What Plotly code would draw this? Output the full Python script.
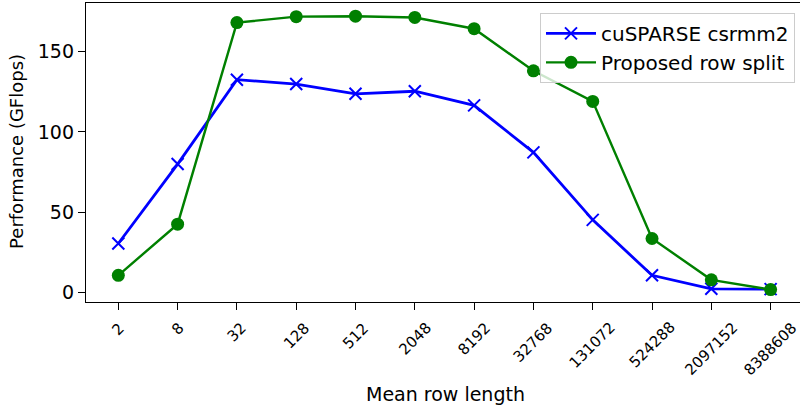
import plotly.graph_objects as go

# Data
row_lengths = ["2", "8", "32", "128", "512", "2048", "8192", "32768",
               "131072", "524288", "2097152", "8388608"]
cusparse = [30.6, 80, 132.5, 129.8, 123.7, 125.3, 116.5, 87.3, 45.3, 10.8, 2.4, 2.2]
row_split = [10.8, 42.6, 168, 171.7, 172, 171.2, 164.2, 138, 119, 33.7, 8.0, 1.9]
y_ticks = [0, 50, 100, 150]

FONT = "DejaVu Sans"
x_idx = list(range(len(row_lengths)))

fig = go.Figure()
fig.add_trace(go.Scatter(
    x=x_idx, y=cusparse, mode="lines+markers", name="cuSPARSE csrmm2",
    line=dict(color="#0000ff", width=2.8),
    marker=dict(symbol="x-thin-open", size=12, color="#0000ff",
                line=dict(color="#0000ff", width=2)),
))
fig.add_trace(go.Scatter(
    x=x_idx, y=row_split, mode="lines+markers", name="Proposed row split",
    line=dict(color="#008000", width=2.4),
    marker=dict(symbol="circle", size=13, color="#008000"),
))

W = 802
PLOT_W = W - 86

annotations = []
for i, lab in enumerate(row_lengths):
    annotations.append(dict(
        x=i, xref="x", y=-0.052, yref="paper", text=lab, showarrow=False,
        textangle=-45, xanchor="center", yanchor="top",
        font=dict(family=FONT, size=15, color="black"), borderpad=0,
    ))
annotations.append(dict(
    x=(445 - 86) / PLOT_W, xref="paper", y=-0.308, yref="paper",
    text="Mean row length",
    showarrow=False, xanchor="center", yanchor="middle",
    font=dict(family=FONT, size=19, color="black"),
))
annotations.append(dict(
    x=(17 - 86) / PLOT_W, xref="paper", y=0.502, yref="paper",
    text="Performance (GFlops)",
    showarrow=False, xanchor="center", yanchor="middle", textangle=-90,
    font=dict(family=FONT, size=18, color="black"),
))

fig.update_layout(
    width=W, height=407,
    margin=dict(l=86, r=0, t=3, b=105),
    paper_bgcolor="white", plot_bgcolor="white",
    font=dict(family=FONT, color="black"),
    showlegend=True,
    legend=dict(
        x=(795 - 86) / PLOT_W, y=0.967, xanchor="right", yanchor="top",
        bgcolor="rgba(255,255,255,0.8)", bordercolor="#cccccc", borderwidth=1,
        font=dict(family=FONT, size=20, color="black"),
        itemwidth=50,
    ),
    annotations=annotations,
)
fig.update_xaxes(
    range=[-0.545, -0.545 + PLOT_W / 59.3], tickmode="array", tickvals=x_idx,
    showticklabels=False,
    ticks="outside", ticklen=7, tickwidth=1.3, tickcolor="black",
    showline=True, linecolor="black", linewidth=1.3, mirror=True,
    showgrid=False, zeroline=False,
)
fig.update_yaxes(
    range=[-5.8, 180.2], tickmode="array", tickvals=y_ticks,
    ticks="outside", ticklen=7, tickwidth=1.3, tickcolor="black",
    tickfont=dict(family=FONT, size=19, color="black"),
    showline=True, linecolor="black", linewidth=1.3, mirror=False,
    showgrid=False, zeroline=False,
)

fig.write_html(
    "out.html",
    config={"displayModeBar": False},
    post_script="document.body.style.margin='0';document.body.style.padding='0';"
                "document.body.style.overflow='hidden';",
)
